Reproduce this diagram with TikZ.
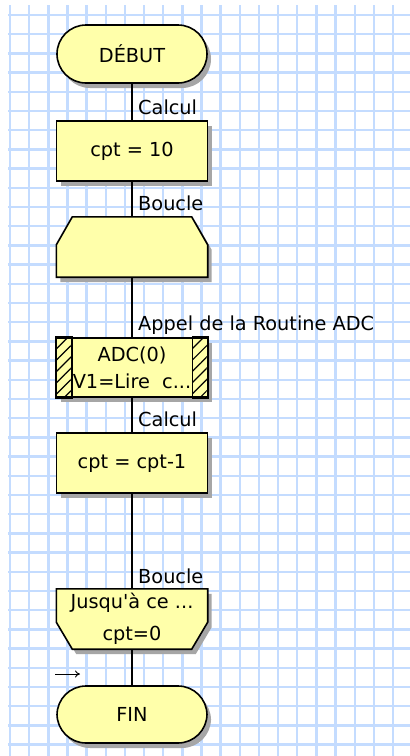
\documentclass[tikz,border=0pt]{standalone}
\usepackage{fontspec}
\setmainfont{DejaVu Sans}
\usetikzlibrary{calc,shadows,patterns.meta,arrows.meta}

\definecolor{chartyellow}{RGB}{255,255,170}
\definecolor{gridblue}{RGB}{196,220,255}

\pgfdeclarelayer{paper}
\pgfdeclarelayer{outline}
\pgfsetlayers{paper,outline,main}

\tikzset{
  boxshadow/.style={drop shadow={shadow xshift=4pt,shadow yshift=-5pt,fill=black!35,opacity=1}},
  flowline/.style={line width=1.6pt},
  flowbox/.style={draw,flowline,fill=chartyellow,boxshadow,minimum width=151pt,minimum height=60pt,inner sep=0pt,align=center},
  termbox/.style={flowbox,rounded corners=29pt,minimum width=150pt,minimum height=58pt},
  loopbox/.style={minimum width=151pt,minimum height=60pt,inner sep=0pt,align=center},
  steplabel/.style={anchor=base west,inner sep=0pt},
}

\begin{document}
\begin{tikzpicture}[x=1pt,y=-1pt,font=\fontsize{19.3}{27}\selectfont]
\useasboundingbox (0,0) rectangle (410,756);
% squared paper
\begin{pgfonlayer}{paper}
\fill[white] (0,0) rectangle (410,756);
\begin{scope}
\clip (8,5) rectangle (410,756);
\foreach \i in {0,...,20}
  \draw[gridblue,line width=2.4pt] (10+19.15*\i,5) -- (10+19.15*\i,756);
\foreach \j in {0,...,38}
  \draw[gridblue,line width=2.4pt] (8,15+19.2*\j) -- (410,15+19.2*\j);
\end{scope}
\end{pgfonlayer}

\node[termbox] (debut) at (132,54) {DÉBUT};
\node[flowbox] (cpt10) at (132,151) {cpt = 10};
\node[loopbox] (loop1) at (132,247) {};
\node[flowbox,minimum height=59pt] (adc) at (132,367.5) {ADC(0)\\V1=Lire\ \ c...};
\node[flowbox] (dec) at (132,463) {cpt = cpt-1};
\node[loopbox] (loop2) at (132,619) {Jusqu\textquotesingle à ce ...\\[5pt]cpt=0};
\node[termbox,minimum height=57pt] (fin) at (132,714.5) {FIN};

% loop shapes
\begin{pgfonlayer}{outline}
\draw[flowline,fill=chartyellow,boxshadow] ($(loop1.north west)+(16,0)$) -- ($(loop1.north east)+(-16,0)$)
  -- ($(loop1.north east)+(0,28)$) -- (loop1.south east) -- (loop1.south west)
  -- ($(loop1.north west)+(0,28)$) -- cycle;
\draw[flowline,fill=chartyellow,boxshadow] (loop2.north west) -- (loop2.north east)
  -- ($(loop2.south east)+(0,-27)$) -- ($(loop2.south east)+(-16,0)$)
  -- ($(loop2.south west)+(16,0)$) -- ($(loop2.south west)+(0,-27)$) -- cycle;
\end{pgfonlayer}

% hatched sides of the routine call
\fill[pattern={Lines[angle=45,distance=8pt,line width=1.2pt]}] (adc.north west) rectangle ($(adc.south west)+(16,0)$);
\fill[pattern={Lines[angle=45,distance=8pt,line width=1.2pt]}] (adc.north east) rectangle ($(adc.south east)+(-16,0)$);
\draw[flowline] (adc.north west) rectangle ($(adc.south west)+(16,0)$);
\draw[flowline] (adc.north east) rectangle ($(adc.south east)+(-16,0)$);

\draw[flowline] (debut) -- (cpt10);
\draw[flowline] (cpt10) -- (loop1);
\draw[flowline] (loop1) -- (adc);
\draw[flowline] (adc) -- (dec);
\draw[flowline] (dec) -- (loop2);
\draw[flowline] (loop2) -- (fin);

\node[steplabel] (lcalc1) at ($(cpt10.north)+(6,-6)$) {Calcul};
\node[steplabel] (lloop1) at ($(loop1.north)+(6,-6)$) {Boucle};
\node[steplabel] (lcall) at ($(adc.north)+(6,-7)$) {Appel de la Routine ADC};
\node[steplabel] (lcalc2) at ($(dec.north)+(6,-6)$) {Calcul};
\node[steplabel] (lloop2) at ($(loop2.north)+(6,-5)$) {Boucle};

\coordinate (mark0) at (55,674);
\coordinate (mark1) at (80,674);
\draw[-{To[length=5pt,width=7pt]},line width=0.9pt] (mark0) -- (mark1);
\end{tikzpicture}
\end{document}
